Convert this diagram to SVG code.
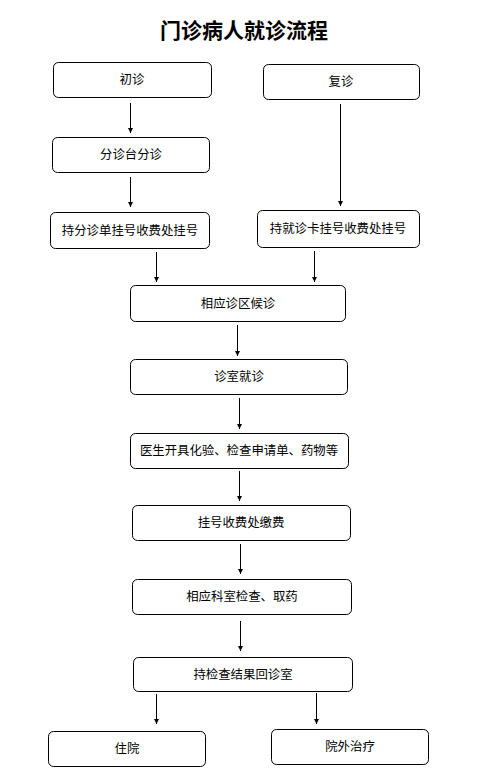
<svg xmlns="http://www.w3.org/2000/svg" width="484" height="777" viewBox="0 0 484 777">
<style>
.box{fill:#fff;stroke:#000;stroke-width:1}
.t{font-family:"Liberation Sans","Noto Sans CJK SC",sans-serif;font-size:12.4px;text-anchor:middle;fill:#000}
.title{font-family:"Liberation Serif","Noto Sans CJK SC",serif;font-size:21px;font-weight:bold;text-anchor:middle;fill:#000}
.c{stroke:#000;stroke-width:1;fill:none;marker-end:url(#ah)}
</style>
<defs>
<marker id="ah" markerWidth="6" markerHeight="6" refX="5" refY="3" orient="auto" markerUnits="userSpaceOnUse">
<path d="M0,0.5 L5,3 L0,5.5 Z" fill="#000"/>
</marker>
</defs>
<rect width="484" height="777" fill="#fff"/>
<text class="title" x="244" y="38">门诊病人就诊流程</text>
<g id="connectors">
<line class="c" x1="130.5" y1="103" x2="130.5" y2="133"/>
<line class="c" x1="130.5" y1="177" x2="130.5" y2="207"/>
<line class="c" x1="340.5" y1="104" x2="340.5" y2="206"/>
<line class="c" x1="156.5" y1="252" x2="156.5" y2="282"/>
<line class="c" x1="314.5" y1="251" x2="314.5" y2="282"/>
<line class="c" x1="237.5" y1="325" x2="237.5" y2="356"/>
<line class="c" x1="239.5" y1="398" x2="239.5" y2="429"/>
<line class="c" x1="239.5" y1="471" x2="239.5" y2="501"/>
<line class="c" x1="240.5" y1="544" x2="240.5" y2="574"/>
<line class="c" x1="240.5" y1="621" x2="240.5" y2="651"/>
<line class="c" x1="156.5" y1="694" x2="156.5" y2="724"/>
<line class="c" x1="316.5" y1="693" x2="316.5" y2="724"/>
</g>
<g id="n1"><rect class="box" x="53.5" y="62.5" width="158" height="35" rx="5"/><text class="t" x="132" y="84">初诊</text></g>
<g id="n2"><rect class="box" x="263.5" y="64.5" width="156" height="35" rx="5"/><text class="t" x="341" y="86">复诊</text></g>
<g id="n3"><rect class="box" x="52.5" y="137.5" width="157" height="35" rx="5"/><text class="t" x="131" y="159">分诊台分诊</text></g>
<g id="n4"><rect class="box" x="50.5" y="212.5" width="159" height="36" rx="5"/><text class="t" x="130" y="234.5">持分诊单挂号收费处挂号</text></g>
<g id="n5"><rect class="box" x="257.5" y="210.5" width="162" height="37" rx="5"/><text class="t" x="338" y="233">持就诊卡挂号收费处挂号</text></g>
<g id="n6"><rect class="box" x="130.5" y="285.5" width="215" height="36" rx="5"/><text class="t" x="238" y="308">相应诊区候诊</text></g>
<g id="n7"><rect class="box" x="130.5" y="359.5" width="217" height="35" rx="5"/><text class="t" x="239" y="381">诊室就诊</text></g>
<g id="n8"><rect class="box" x="130.5" y="433.5" width="218" height="35" rx="5"/><text class="t" x="239" y="455">医生开具化验、检查申请单、药物等</text></g>
<g id="n9"><rect class="box" x="132.5" y="505.5" width="218" height="35" rx="5"/><text class="t" x="241" y="527">挂号收费处缴费</text></g>
<g id="n10"><rect class="box" x="132.5" y="579.5" width="219" height="35" rx="5"/><text class="t" x="242" y="601">相应科室检查、取药</text></g>
<g id="n11"><rect class="box" x="133.5" y="657.5" width="219" height="34" rx="5"/><text class="t" x="243" y="678.5">持检查结果回诊室</text></g>
<g id="n12"><rect class="box" x="48.5" y="731.5" width="157" height="35" rx="5"/><text class="t" x="127" y="753">住院</text></g>
<g id="n13"><rect class="box" x="271.5" y="729.5" width="157" height="35" rx="5"/><text class="t" x="350" y="751">院外治疗</text></g>
</svg>
